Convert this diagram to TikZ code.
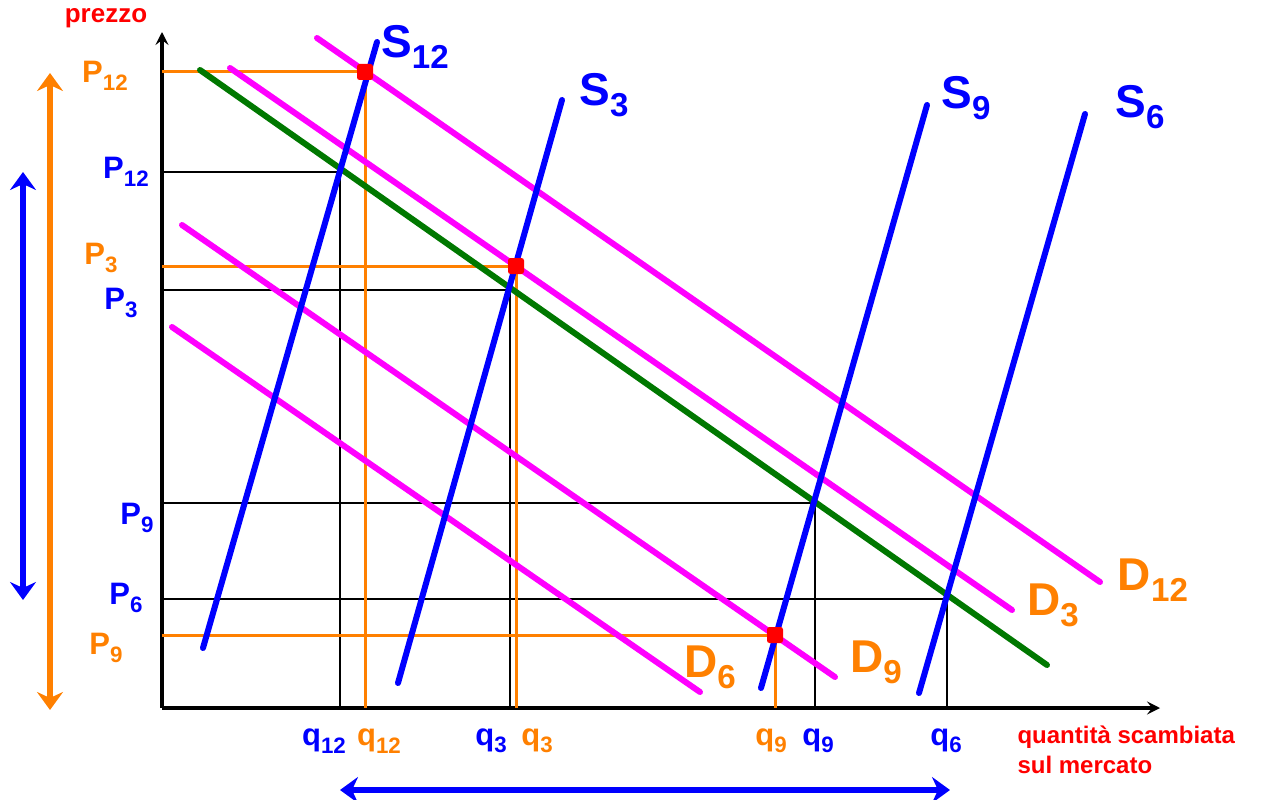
\documentclass[tikz,border=0pt]{standalone}
\usepackage{fontspec}
\setmainfont{Liberation Sans}
\usetikzlibrary{arrows.meta}
\definecolor{sblue}{RGB}{0,0,255}
\definecolor{dmag}{RGB}{255,0,255}
\definecolor{dgreen}{RGB}{0,120,0}
\definecolor{orng}{RGB}{255,128,0}
\definecolor{thin}{RGB}{80,80,80}
\newcommand{\sub}[2]{#1\raisebox{-0.24em}{\fontsize{0.72\dimexpr\fontdimen6\font\relax}{1em}\selectfont #2}}
\begin{document}
\begin{tikzpicture}[x=1pt,y=-1pt,
  supply/.style={sblue,line width=6pt,line cap=round},
  demand/.style={dmag,line width=6pt,line cap=round},
  base/.style={dgreen,line width=6pt,line cap=round},
  guide/.style={thin,line width=1.2pt},
  oguide/.style={orng,line width=3pt},
  axis/.style={black,line width=3.5pt,-{Stealth[length=13pt,width=13pt,inset=5pt]}},
  bigarrow/.style={line width=6pt,{Stealth[length=18pt,width=26pt,inset=6pt]}-{Stealth[length=18pt,width=26pt,inset=6pt]}},
  eq/.style={fill=red,draw=none,rounded corners=2.5pt,minimum size=16pt,inner sep=0pt},
  big/.style={font=\bfseries\fontsize{46}{50}\selectfont},
  mid/.style={font=\bfseries\fontsize{31}{34}\selectfont},
  red lab/.style={red,font=\bfseries\fontsize{24}{30}\selectfont,align=left}]
\useasboundingbox (0,0) rectangle (1269,800);

% axes
\coordinate (O) at (162,708);
\coordinate (ytop) at (162,32);
\coordinate (xend) at (1160,708);
\draw[axis] (O) -- (ytop);
\draw[axis] (O) -- (xend);

% thin guides (blue equilibria on green line)
\coordinate (g12) at (340,172);
\coordinate (g3) at (510,290);
\coordinate (g9) at (815,503);
\coordinate (g6) at (947,599);
\foreach \g in {g12,g3,g9,g6}{
  \draw[guide] (O |- \g) -- (\g) -- (\g |- O);
}

% orange guides
\coordinate (e12) at (365,72);
\coordinate (e3) at (516,266);
\coordinate (e9) at (775,635);
\foreach \e in {e12,e3,e9}{
  \draw[oguide] (O |- \e) -- (\e) -- (\e |- O);
}

% demand lines
\coordinate (d12a) at (317,38);   \coordinate (d12b) at (1100,582);
\coordinate (d3a) at (230,68);    \coordinate (d3b) at (1012,610);
\coordinate (d9a) at (182,225);   \coordinate (d9b) at (835,677);
\coordinate (d6a) at (172,327);   \coordinate (d6b) at (700,692);
\coordinate (ga) at (200,70);     \coordinate (gb) at (1047,665);
\draw[base] (ga) -- (gb);
\draw[demand] (d12a) -- (d12b);
\draw[demand] (d3a) -- (d3b);
\draw[demand] (d9a) -- (d9b);
\draw[demand] (d6a) -- (d6b);

% supply lines
\coordinate (s12a) at (203,648);  \coordinate (s12b) at (377,42);
\coordinate (s3a) at (398,683);   \coordinate (s3b) at (562,100);
\coordinate (s9a) at (761,688);   \coordinate (s9b) at (927,105);
\coordinate (s6a) at (919,693);   \coordinate (s6b) at (1085,114);
\draw[supply] (s12a) -- (s12b);
\draw[supply] (s3a) -- (s3b);
\draw[supply] (s9a) -- (s9b);
\draw[supply] (s6a) -- (s6b);

% equilibrium markers
\node[eq] (m12) at (e12) {};
\node[eq] (m3) at (e3) {};
\node[eq] (m9) at (e9) {};

% curve labels
\node[big,sblue] (lS12) at (415,47) {\sub{S}{12}};
\node[big,sblue] (lS3) at (604,95) {\sub{S}{3}};
\node[big,sblue] (lS9) at (966,98) {\sub{S}{9}};
\node[big,sblue] (lS6) at (1140,107) {\sub{S}{6}};
\node[big,orng] (lD12) at (1153,580) {\sub{D}{12}};
\node[big,orng] (lD3) at (1053,605) {\sub{D}{3}};
\node[big,orng] (lD9) at (876,662) {\sub{D}{9}};
\node[big,orng] (lD6) at (710,667) {\sub{D}{6}};

% price labels
\node[mid,orng] (oP12) at (105,76) {\sub{P}{12}};
\node[mid,sblue] (bP12) at (126,172) {\sub{P}{12}};
\node[mid,orng] (oP3) at (101,258) {\sub{P}{3}};
\node[mid,sblue] (bP3) at (121,303) {\sub{P}{3}};
\node[mid,sblue] (bP9) at (137,518) {\sub{P}{9}};
\node[mid,sblue] (bP6) at (126,598) {\sub{P}{6}};
\node[mid,orng] (oP9) at (106,648) {\sub{P}{9}};

% quantity labels
\node[mid,sblue] (bq12) at (324,741) {\sub{q}{12}};
\node[mid,orng] (oq12) at (379,741) {\sub{q}{12}};
\node[mid,sblue] (bq3) at (491,741) {\sub{q}{3}};
\node[mid,orng] (oq3) at (537,741) {\sub{q}{3}};
\node[mid,orng] (oq9) at (771,741) {\sub{q}{9}};
\node[mid,sblue] (bq9) at (818,741) {\sub{q}{9}};
\node[mid,sblue] (bq6) at (946,741) {\sub{q}{6}};

% axis titles
\node[red lab,font=\bfseries\fontsize{26}{30}\selectfont] (prezzo) at (106,18) {prezzo};
\node[red lab,anchor=west] (qty) at (1014,750) {quantità scambiata\\sul mercato};

% range arrows
\coordinate (oa1) at (50,73);  \coordinate (oa2) at (50,710);
\coordinate (ba1) at (23,172); \coordinate (ba2) at (23,600);
\coordinate (ha1) at (340,790); \coordinate (ha2) at (950,790);
\draw[bigarrow,orng] (oa1) -- (oa2);
\draw[bigarrow,sblue] (ba1) -- (ba2);
\draw[bigarrow,sblue] (ha1) -- (ha2);
\end{tikzpicture}
\end{document}
